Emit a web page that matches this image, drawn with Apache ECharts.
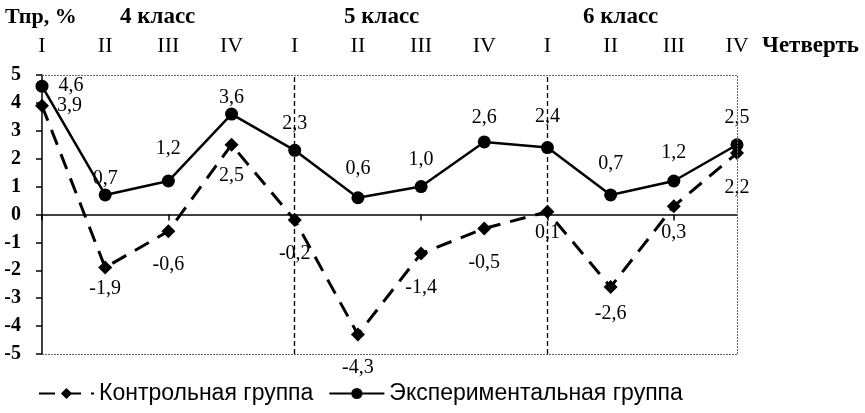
<!DOCTYPE html>
<html>
<head>
<meta charset="utf-8">
<script src="https://cdn.jsdelivr.net/npm/echarts@6/dist/echarts.min.js"></script>
<style>
  html, body { margin: 0; padding: 0; background: #fff; }
  #main { width: 865px; height: 413px; }
</style>
</head>
<body>
<div id="main"></div>
<script>
var classes = ['4 класс', '5 класс', '6 класс'];
var quarters = ['I', 'II', 'III', 'IV'];
var control = [3.9, -1.9, -0.6, 2.5, -0.2, -4.3, -1.4, -0.5, 0.1, -2.6, 0.3, 2.2];
var experimental = [4.6, 0.7, 1.2, 3.6, 2.3, 0.6, 1.0, 2.6, 2.4, 0.7, 1.2, 2.5];
var yTicks = [-5, -4, -3, -2, -1, 0, 1, 2, 3, 4, 5];

// категории вида "4 класс|I", на оси показываем только четверть
var categories = [];
classes.forEach(function (c) {
    quarters.forEach(function (q) { categories.push(c + '|' + q); });
});

var serif = 'Liberation Serif';
var fmt = function (v) { return String(v.toFixed(1)).replace('.', ','); };

// положение подписей точек
var ctrlPos = ['right', 'bottom', 'bottom', 'bottom', 'bottom', 'bottom', 'bottom', 'bottom', 'bottom', 'bottom', 'bottom', 'bottom'];
var ctrlDist = [8, 4, 17, 14, 17, 16, 17, 17, 4, 10, 10, 18];
var expPos = ['right', 'top', 'top', 'top', 'top', 'top', 'top', 'top', 'top', 'top', 'top', 'top'];
var expDist = [10, 0, 16, 0, 10, 13, 10, 8, 14, 15, 12, 11];

function withLabels(values, pos, dist) {
    return values.map(function (v, i) {
        return { value: v, label: { position: pos[i], distance: dist[i] } };
    });
}

var myChart = echarts.init(document.getElementById('main'));
var option = {
    animation: false,
    textStyle: { fontFamily: serif, color: '#000' },
    grid: { left: 42, right: 128, top: 75, bottom: 59 },
    legend: {
        left: 33,
        top: 377,
        itemWidth: 55,
        itemHeight: 14,
        itemGap: 15,
        textStyle: { fontFamily: 'Liberation Sans', fontSize: 23, color: '#000' },
        data: ['Контрольная группа', 'Экспериментальная группа']
    },
    graphic: [
        { type: 'text', left: 5, top: 6, style: { text: 'Тпр, %', font: 'bold 22px "Liberation Serif"', fill: '#000' } },
        { type: 'text', left: 120, top: 6, style: { text: classes[0], font: 'bold 23px "Liberation Serif"', fill: '#000' } },
        { type: 'text', left: 344, top: 6, style: { text: classes[1], font: 'bold 23px "Liberation Serif"', fill: '#000' } },
        { type: 'text', left: 583, top: 6, style: { text: classes[2], font: 'bold 23px "Liberation Serif"', fill: '#000' } },
        { type: 'text', left: 762, top: 35, style: { text: 'Четверть', font: 'bold 23px "Liberation Serif"', fill: '#000' } }
    ],
    xAxis: [
        {
            type: 'category',
            data: categories,
            boundaryGap: false,
            axisLine: { onZero: true, lineStyle: { color: '#000', width: 1.5 } },
            axisTick: { show: true, length: 6, inside: false, lineStyle: { color: '#000', width: 1.5 } },
            axisLabel: { show: false },
            splitLine: { show: false }
        },
        {
            type: 'category',
            data: categories,
            position: 'top',
            boundaryGap: false,
            axisLine: { show: false },
            axisTick: { show: false },
            axisLabel: {
                margin: 18,
                fontFamily: serif,
                fontSize: 22,
                color: '#000',
                interval: 0,
                formatter: function (v) { return v.split('|')[1]; }
            }
        }
    ],
    yAxis: {
        type: 'value',
        min: yTicks[0],
        max: yTicks[yTicks.length - 1],
        interval: 1,
        axisLine: { show: true, lineStyle: { color: '#000', width: 1.5 } },
        axisTick: { show: true, length: 6, lineStyle: { color: '#000', width: 1.5 } },
        axisLabel: { fontFamily: serif, fontSize: 20, fontWeight: 'bold', color: '#000', margin: 21 },
        splitLine: { show: false }
    },
    series: [
        {
            name: 'Контрольная группа',
            type: 'line',
            data: withLabels(control, ctrlPos, ctrlDist),
            symbol: 'diamond',
            symbolSize: 14,
            itemStyle: { color: '#000' },
            lineStyle: { color: '#000', width: 3, type: [16, 10] },
            label: {
                show: true,
                fontFamily: serif,
                fontSize: 20,
                color: '#000',
                formatter: function (p) { return fmt(p.value); }
            },
            markLine: {
                silent: true,
                symbol: 'none',
                label: { show: false },
                lineStyle: { color: '#000', width: 1.3, type: [5, 3] },
                data: [{ xAxis: 3.5 }, { xAxis: 7.5 }]
            },
            z: 2
        },
        {
            name: 'Экспериментальная группа',
            type: 'line',
            data: withLabels(experimental, expPos, expDist),
            symbol: 'circle',
            symbolSize: 13,
            itemStyle: { color: '#000' },
            lineStyle: { color: '#000', width: 2.5 },
            label: {
                show: true,
                fontFamily: serif,
                fontSize: 20,
                color: '#000',
                formatter: function (p) { return fmt(p.value); }
            },
            markLine: {
                silent: true,
                symbol: 'none',
                label: { show: false },
                lineStyle: { color: '#666', width: 1, type: [2, 1] },
                data: [{ yAxis: 5 }, { yAxis: -5 }, { xAxis: 11 }]
            },
            z: 3
        }
    ]
};
myChart.setOption(option);
</script>
</body>
</html>
